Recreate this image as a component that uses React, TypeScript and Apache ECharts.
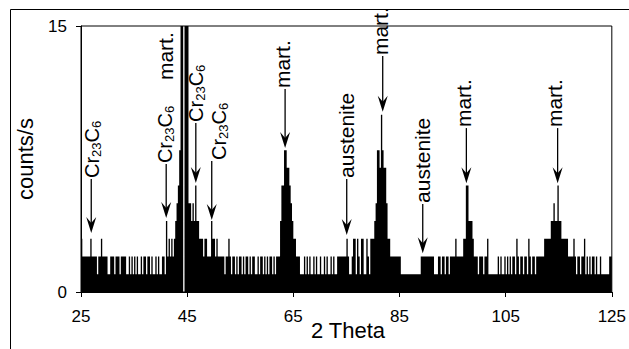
import React, { useEffect, useRef } from "react";
import * as echarts from "echarts";

const W = 629;
const H = 349;
const FONT = "'Liberation Sans', Arial, sans-serif";

// 2θ bins of 0.25°, first bin starts at 25.0°
const THETA0 = 25;
const STEP = 0.25;

// counts/s per bin (max value read in each 0.25° bin); null = nothing drawn (peak top off-scale)
const seg25to35 = [3,2,2,2,2,2,2,3,2,2, 2,2,1,2,2,3,2,2,2,2, 1,1,2,2,2,1,2,2,2,1, 2,2,2,2,1,1,2,1,2,1];
const seg35to45 = [2,1,2,1,1,2,1,2,2,1, 2,2,1,2,1,1,2,1,2,1, 1,2,2,1,4,2,3,2,3,2, 3,4,5,6,8,20,20,null,20,20];
const seg45to55 = [16,5,5,4,5,4,6,4,4,3, 3,3,2,3,3,2,2,2,4,3, 3,2,3,2,2,2,2,2,1,2, 2,3,2,1,2,2,1,2,1,2];
const seg55to65 = [2,1,2,1,2,2,1,2,1,2, 2,1,1,2,1,2,2,1,2,1, 2,1,2,2,1,2,1,2,2,2, 4,6,6,8,8,7,7,6,5,4];
const seg65to75 = [3,3,2,2,2,1,1,1,2,1, 2,1,2,1,1,2,1,2,1,1, 2,1,1,2,1,2,1,1,2,1, 2,1,1,2,2,2,2,2,2,2];
const seg75to85 = [3,2,1,1,2,3,3,1,3,2, 1,3,3,1,1,3,2,1,3,3, 3,4,5,8,8,7,10,8,7,7, 5,3,3,2,2,2,2,2,2,2];
const seg85to95 = [2,1,1,1,1,1,1,1,1,1, 1,1,1,1,1,1,2,2,2,2, 2,2,2,2,2,2,1,1,1,2, 2,1,2,2,1,2,2,1,2,2];
const seg95to105 = [2,2,3,2,2,2,2,2,3,3, 6,6,4,4,4,3,2,2,2,1, 2,2,2,1,2,2,3,1,1,1, 1,1,1,1,2,1,2,1,1,2];
const seg105to115 = [1,2,1,2,1,2,2,1,3,2, 1,2,2,1,2,2,1,3,2,1, 2,2,1,2,2,2,2,2,2,3, 3,3,3,3,4,4,5,4,4,6];
const seg115to125 = [4,4,3,3,3,3,3,2,2,2, 2,3,2,1,2,2,1,2,2,3, 1,2,1,2,1,2,2,1,2,1, 1,2,1,1,1,1,1,1,2,2];

const xMin = 25;
const xMax = 125;
const xInterval = 20;
const yMin = 0;
const yMax = 15;

// peak annotations: 2θ of arrow, counts of arrow tip, counts where the label starts
const annTheta = [26.93, 41.05, 41.1, 46.63, 49.63, 63.45, 75.06, 81.84, 89.38, 97.6, 114.79];
const annTip = [3.33, 4.17, null, 6.15, 4.06, 8.12, 3.21, 10.17, 2.18, 6.13, 6.13];
const annStart = [6.43, 7.27, 11.95, 9.59, 7.44, 11.5, 6.43, 13.36, 5.02, 9.3, 9.3];
const annText = ["Cr23C6", "Cr23C6", "mart.", "Cr23C6", "Cr23C6", "mart.", "austenite", "mart.", "austenite", "mart.", "mart."];
const annDx = [1, -1, -1, 0, 7, -3, 0, -2, 0, -3, -3];

export default function App() {
  const ref = useRef<HTMLDivElement | null>(null);
  useEffect(() => {
    if (!ref.current) return;
    const chart = echarts.init(ref.current, null, { renderer: "svg", width: W, height: H });
    const all = [
      ...seg25to35, ...seg35to45, ...seg45to55, ...seg55to65, ...seg65to75,
      ...seg75to85, ...seg85to95, ...seg95to105, ...seg105to115, ...seg115to125,
    ];
    const data: [number, number][] = [];
    all.forEach((v, i) => {
      if (v != null) data.push([THETA0 + STEP * (i + 0.5), v as number]);
    });
    const gridL = 81, gridR = 14, gridT = 26, gridB = 57;
    const binPx = ((W - gridL - gridR) * STEP) / (xMax - xMin);
    chart.setOption({
      animation: false,
      grid: { left: gridL, right: gridR, top: gridT, bottom: gridB, show: true, borderColor: "#000", borderWidth: 1 },
      xAxis: {
        type: "value", min: xMin, max: xMax, interval: xInterval,
        axisLine: { show: true, lineStyle: { color: "#000", width: 1 } },
        axisTick: { show: true, length: 5, lineStyle: { color: "#000" } },
        axisLabel: { color: "#000", fontSize: 17, fontFamily: FONT, margin: 16 },
        splitLine: { show: false },
      },
      yAxis: {
        type: "value", min: yMin, max: yMax, interval: yMax,
        axisLine: { show: true, lineStyle: { color: "#000", width: 1 } },
        axisTick: { show: true, length: 5, lineStyle: { color: "#000" } },
        axisLabel: { color: "#000", fontSize: 17, fontFamily: FONT, margin: 14 },
        splitLine: { show: false },
      },
      series: [
        {
          type: "bar",
          data,
          barWidth: binPx,
          large: true,
          largeThreshold: 10,
          clip: true,
          itemStyle: { color: "#000" },
        },
      ],
    });

    const g: any[] = [
      { type: "rect", shape: { x: 10.5, y: 9.5, width: 700, height: 400 }, style: { fill: "none", stroke: "#000", lineWidth: 1 }, silent: true },
      {
        type: "text", x: 25, y: (gridT + (H - gridB)) / 2, rotation: Math.PI / 2,
        style: { text: "counts/s", font: `22px ${FONT}`, fill: "#000", align: "center", verticalAlign: "middle" },
      },
      {
        type: "text", x: (gridL + W - gridR) / 2, y: 330,
        style: { text: "2 Theta", font: `22px ${FONT}`, fill: "#000", align: "center", verticalAlign: "middle" },
      },
    ];
    annText.forEach((t, i) => {
      const th = annTheta[i];
      const [ax] = chart.convertToPixel({ gridIndex: 0 }, [th, 0]) as number[];
      const [, sy] = chart.convertToPixel({ gridIndex: 0 }, [th, annStart[i]]) as number[];
      const isCr = t === "Cr23C6";
      g.push({
        type: "text", x: ax + annDx[i], y: sy, rotation: Math.PI / 2, z: 100,
        style: isCr
          ? {
              text: "{m|Cr}{s|23}{m|C}{s|6}", fill: "#000", align: "left", verticalAlign: "middle",
              rich: {
                m: { fontSize: 20, fontFamily: FONT, fill: "#000" },
                s: { fontSize: 13, fontFamily: FONT, fill: "#000", padding: [9, 0, 0, 0] },
              },
            }
          : { text: t, font: `21px ${FONT}`, fill: "#000", align: "left", verticalAlign: "middle" },
      });
      const tip = annTip[i];
      if (tip != null) {
        const [, ty] = chart.convertToPixel({ gridIndex: 0 }, [th, tip]) as number[];
        g.push({
          type: "line", z: 100,
          shape: { x1: ax, y1: sy + 1, x2: ax, y2: ty - 9 },
          style: { stroke: "#000", lineWidth: 1.3 },
        });
        g.push({
          type: "polygon", z: 100,
          shape: { points: [[ax, ty], [ax - 5, ty - 16], [ax, ty - 10], [ax + 5, ty - 16]] },
          style: { fill: "#000" },
        });
      }
    });
    chart.setOption({ graphic: g });
    return () => chart.dispose();
  }, []);
  return <div ref={ref} style={{ position: "fixed", left: 0, top: 0, width: W, height: H, background: "#fff" }} />;
}
